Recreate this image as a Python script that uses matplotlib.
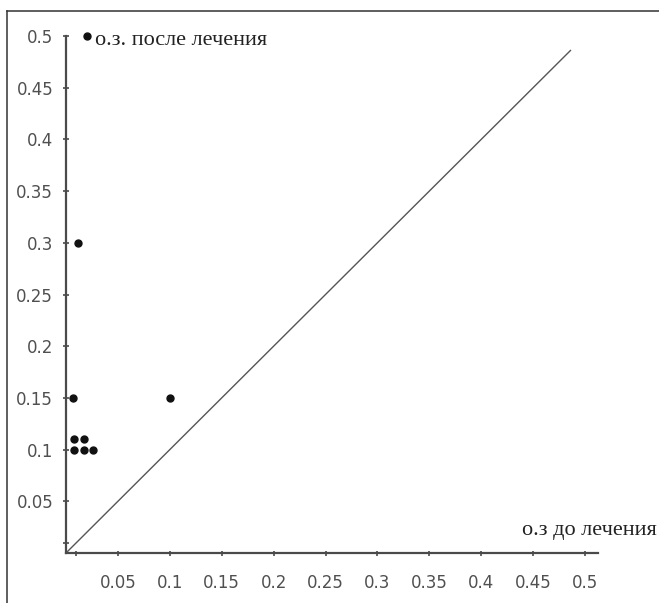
import numpy as np
import matplotlib
matplotlib.use("Agg")
import matplotlib.pyplot as plt
from matplotlib.lines import Line2D

# visual acuity before / after treatment
before = [0.02, 0.012, 0.007, 0.1, 0.008, 0.017, 0.008, 0.017, 0.026]
after = [0.5, 0.3, 0.15, 0.15, 0.11, 0.11, 0.1, 0.1, 0.1]

diag = [0.0, 0.486]
ticks = [0.05, 0.1, 0.15, 0.2, 0.25, 0.3, 0.35, 0.4, 0.45, 0.5]
tick_labels = ["0.05", "0.1", "0.15", "0.2", "0.25", "0.3", "0.35", "0.4", "0.45", "0.5"]
long_ticks = [0.1, 0.2, 0.3, 0.4, 0.5]

y_label = "о.з. после лечения"
x_label = "о.з до лечения"

axis_color = "#4a4a4a"
label_color = "#505050"

fig = plt.figure(figsize=(6.59, 6.03), dpi=100)
ax = fig.add_axes([66 / 659, 50 / 603, 532 / 659, 517 / 603])

ax.set_xlim(0, 0.5125)
ax.set_ylim(0, 0.5)

# diagonal y = x
ax.plot(diag, diag, color="#555555", lw=1.0)

ax.plot(before, after, "o", color="#111111", markersize=5, clip_on=False)

for s in ["top", "right"]:
    ax.spines[s].set_visible(False)
for s in ["left", "bottom"]:
    ax.spines[s].set_color(axis_color)
    ax.spines[s].set_linewidth(1.6)

# x axis ticks: short ones with labels, longer ones at 0.1 steps
ax.set_xticks([0.01] + ticks)
ax.set_xticklabels([""] + tick_labels)
ax.set_xticks(long_ticks, minor=True)
ax.tick_params(axis="x", which="major", direction="inout", length=3.6,
               width=1.2, color=axis_color, pad=13, labelsize=12,
               labelcolor=label_color)
ax.tick_params(axis="x", which="minor", direction="inout", length=6.5,
               width=1.2, color=axis_color)

ax.set_yticks([0.01] + ticks)
ax.set_yticklabels([""] + tick_labels)
ax.tick_params(axis="y", which="major", direction="inout", length=4.5,
               width=1.2, color=axis_color, pad=7, labelsize=12,
               labelcolor=label_color)

ax.text(0.028, 0.4915, y_label, ha="left", va="baseline", fontsize=16,
        family="Liberation Serif", color="#222222")
fig.text(657 / 659, 1 - 535 / 603, x_label, ha="right", va="baseline",
         fontsize=16, family="Liberation Serif", color="#222222")

# outer frame lines (left and top)
fig.add_artist(Line2D([7 / 659, 7 / 659], [0, 1 - 11 / 603],
                      transform=fig.transFigure, color="#333333", lw=1.1))
fig.add_artist(Line2D([7 / 659, 1], [1 - 11 / 603, 1 - 11 / 603],
                      transform=fig.transFigure, color="#333333", lw=1.1))

fig.savefig("out.png", dpi=100)
